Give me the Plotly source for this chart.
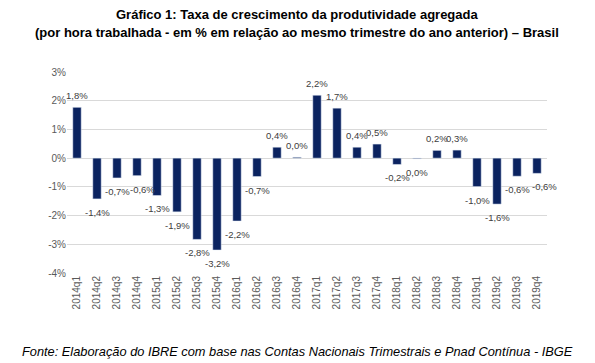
import plotly.graph_objects as go

categories = ["2014q1","2014q2","2014q3","2014q4","2015q1","2015q2","2015q3","2015q4",
              "2016q1","2016q2","2016q3","2016q4","2017q1","2017q2","2017q3","2017q4",
              "2018q1","2018q2","2018q3","2018q4","2019q1","2019q2","2019q3","2019q4"]
values = [1.77, -1.42, -0.69, -0.61, -1.30, -1.87, -2.83, -3.20,
          -2.19, -0.64, 0.38, 0.03, 2.19, 1.74, 0.38, 0.49,
          -0.22, -0.02, 0.27, 0.28, -0.99, -1.60, -0.63, -0.53]
labels = ["1,8%","-1,4%","-0,7%","-0,6%","-1,3%","-1,9%","-2,8%","-3,2%",
          "-2,2%","-0,7%","0,4%","0,0%","2,2%","1,7%","0,4%","0,5%",
          "-0,2%","0,0%","0,2%","0,3%","-1,0%","-1,6%","-0,6%","-0,6%"]
y_ticks = [3, 2, 1, 0, -1, -2, -3, -4]
y_tick_labels = ["3%", "2%", "1%", "0%", "-1%", "-2%", "-3%", "-4%"]

# horizontal nudges of a few data labels (as in the original Excel chart)
label_nudge = {"2014q4": 5, "2019q4": 7}

fig = go.Figure()
fig.add_trace(go.Bar(
    x=categories, y=values,
    marker=dict(color="#0b2360"),
    width=0.42,
    hoverinfo="skip",
))

label_annotations = []
for cat, val, lab in zip(categories, values, labels):
    pos = val >= 0
    label_annotations.append(dict(
        x=cat, y=val, xref="x", yref="y", text=lab, showarrow=False,
        yanchor="bottom" if pos else "top",
        yshift=4 if pos else -6,
        xshift=label_nudge.get(cat, 0),
        font=dict(family="Liberation Sans", size=9.5, color="#404040"),
    ))

fig.update_layout(
    width=595, height=363,
    margin=dict(l=67, r=48, t=72, b=90, autoexpand=False),
    paper_bgcolor="white", plot_bgcolor="white",
    showlegend=False,
    font=dict(family="Liberation Sans", color="#595959"),
    xaxis=dict(
        type="category", categoryorder="array", categoryarray=categories,
        range=[-0.5, len(categories) - 0.5], autorange=False,
        tickangle=-90, showgrid=False, showline=False,
        tickfont=dict(family="Liberation Sans", size=10, color="#595959"),
        ticks="", automargin=False,
    ),
    yaxis=dict(
        range=[-4, 3], autorange=False, tickmode="array", tickvals=y_ticks, ticktext=y_tick_labels,
        showgrid=True, gridcolor="#d9d9d9", gridwidth=1,
        zeroline=True, zerolinecolor="#d9d9d9", zerolinewidth=1,
        tickfont=dict(family="Liberation Sans", size=10, color="#595959"),
        ticks="", showline=False, automargin=False,
    ),
    annotations=label_annotations + [
        dict(text="<b>Gráfico 1: Taxa de crescimento da produtividade agregada</b>",
             xref="paper", yref="paper", x=0.5, y=1, xanchor="center", yanchor="middle",
             xshift=-10, yshift=72 - 14,
             showarrow=False, font=dict(family="Liberation Sans", size=13, color="#000000")),
        dict(text="<b>(por hora trabalhada - em % em relação ao mesmo trimestre do ano anterior) – Brasil</b>",
             xref="paper", yref="paper", x=0.5, y=1, xanchor="center", yanchor="middle",
             xshift=-10, yshift=72 - 32,
             showarrow=False, font=dict(family="Liberation Sans", size=13, color="#000000")),
        dict(text="<i>Fonte: Elaboração do IBRE com base nas Contas Nacionais Trimestrais e Pnad Contínua - IBGE</i>",
             xref="paper", yref="paper", x=0, y=0, xanchor="left", yanchor="middle",
             xshift=20 - 67, yshift=-(351 - 273),
             showarrow=False, font=dict(family="Liberation Sans", size=12.8, color="#000000")),
    ],
)

fig.write_html("out.html", config={"displayModeBar": False},
               post_script="document.body.style.margin='0';document.body.style.overflow='hidden';")
